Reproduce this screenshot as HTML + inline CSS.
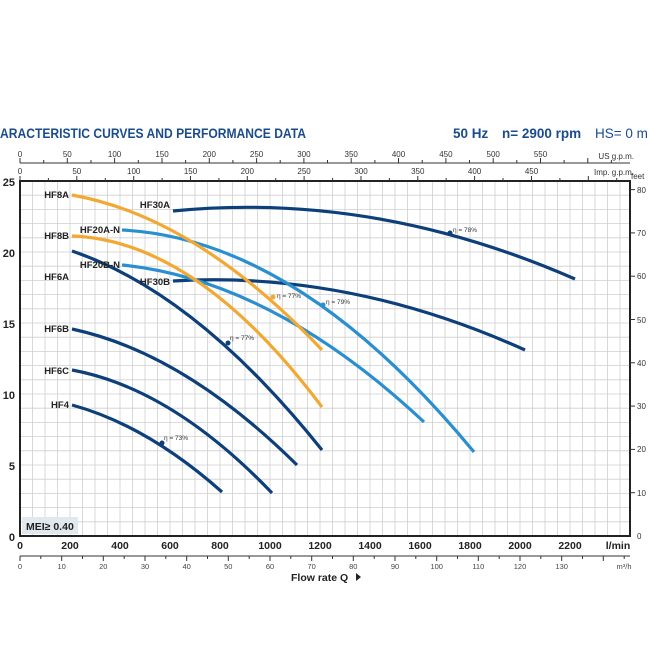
<!DOCTYPE html>
<html><head><meta charset="utf-8"><style>
html,body{margin:0;padding:0;background:#fff;}
svg{display:block;font-family:"Liberation Sans",sans-serif;}
</style></head><body>
<svg width="650" height="650" viewBox="0 0 650 650" xmlns="http://www.w3.org/2000/svg">
<rect width="650" height="650" fill="#fff"/>
<!-- title -->
<text x="0" y="138" font-size="13.5" font-weight="bold" fill="#1a4c8c" textLength="306" lengthAdjust="spacingAndGlyphs">ARACTERISTIC CURVES AND PERFORMANCE DATA</text>
<text x="453" y="138" font-size="13.5" font-weight="bold" fill="#1a4c8c">50 Hz</text>
<text x="502" y="138" font-size="13.5" font-weight="bold" fill="#1a4c8c">n= 2900 rpm</text>
<text x="595" y="138" font-size="13.5" fill="#1a4c8c">HS= 0 m</text>

<!-- grid -->
<g stroke="#cfcfcf" stroke-width="0.8">
<g id="vg">
<line x1="32.5" y1="181" x2="32.5" y2="536"/><line x1="45" y1="181" x2="45" y2="536"/><line x1="57.5" y1="181" x2="57.5" y2="536"/><line x1="70" y1="181" x2="70" y2="536"/>
<line x1="82.5" y1="181" x2="82.5" y2="536"/><line x1="95" y1="181" x2="95" y2="536"/><line x1="107.5" y1="181" x2="107.5" y2="536"/><line x1="120" y1="181" x2="120" y2="536"/>
<line x1="132.5" y1="181" x2="132.5" y2="536"/><line x1="145" y1="181" x2="145" y2="536"/><line x1="157.5" y1="181" x2="157.5" y2="536"/><line x1="170" y1="181" x2="170" y2="536"/>
<line x1="182.5" y1="181" x2="182.5" y2="536"/><line x1="195" y1="181" x2="195" y2="536"/><line x1="207.5" y1="181" x2="207.5" y2="536"/><line x1="220" y1="181" x2="220" y2="536"/>
<line x1="232.5" y1="181" x2="232.5" y2="536"/><line x1="245" y1="181" x2="245" y2="536"/><line x1="257.5" y1="181" x2="257.5" y2="536"/><line x1="270" y1="181" x2="270" y2="536"/>
<line x1="282.5" y1="181" x2="282.5" y2="536"/><line x1="295" y1="181" x2="295" y2="536"/><line x1="307.5" y1="181" x2="307.5" y2="536"/><line x1="320" y1="181" x2="320" y2="536"/>
<line x1="332.5" y1="181" x2="332.5" y2="536"/><line x1="345" y1="181" x2="345" y2="536"/><line x1="357.5" y1="181" x2="357.5" y2="536"/><line x1="370" y1="181" x2="370" y2="536"/>
<line x1="382.5" y1="181" x2="382.5" y2="536"/><line x1="395" y1="181" x2="395" y2="536"/><line x1="407.5" y1="181" x2="407.5" y2="536"/><line x1="420" y1="181" x2="420" y2="536"/>
<line x1="432.5" y1="181" x2="432.5" y2="536"/><line x1="445" y1="181" x2="445" y2="536"/><line x1="457.5" y1="181" x2="457.5" y2="536"/><line x1="470" y1="181" x2="470" y2="536"/>
<line x1="482.5" y1="181" x2="482.5" y2="536"/><line x1="495" y1="181" x2="495" y2="536"/><line x1="507.5" y1="181" x2="507.5" y2="536"/><line x1="520" y1="181" x2="520" y2="536"/>
<line x1="532.5" y1="181" x2="532.5" y2="536"/><line x1="545" y1="181" x2="545" y2="536"/><line x1="557.5" y1="181" x2="557.5" y2="536"/><line x1="570" y1="181" x2="570" y2="536"/>
<line x1="582.5" y1="181" x2="582.5" y2="536"/><line x1="595" y1="181" x2="595" y2="536"/><line x1="607.5" y1="181" x2="607.5" y2="536"/><line x1="620" y1="181" x2="620" y2="536"/>
</g>
<line x1="20" y1="195.2" x2="630" y2="195.2"/><line x1="20" y1="209.4" x2="630" y2="209.4"/><line x1="20" y1="223.6" x2="630" y2="223.6"/><line x1="20" y1="237.8" x2="630" y2="237.8"/><line x1="20" y1="252" x2="630" y2="252"/>
<line x1="20" y1="266.2" x2="630" y2="266.2"/><line x1="20" y1="280.4" x2="630" y2="280.4"/><line x1="20" y1="294.6" x2="630" y2="294.6"/><line x1="20" y1="308.8" x2="630" y2="308.8"/><line x1="20" y1="323" x2="630" y2="323"/>
<line x1="20" y1="337.2" x2="630" y2="337.2"/><line x1="20" y1="351.4" x2="630" y2="351.4"/><line x1="20" y1="365.6" x2="630" y2="365.6"/><line x1="20" y1="379.8" x2="630" y2="379.8"/><line x1="20" y1="394" x2="630" y2="394"/>
<line x1="20" y1="408.2" x2="630" y2="408.2"/><line x1="20" y1="422.4" x2="630" y2="422.4"/><line x1="20" y1="436.6" x2="630" y2="436.6"/><line x1="20" y1="450.8" x2="630" y2="450.8"/><line x1="20" y1="465" x2="630" y2="465"/>
<line x1="20" y1="479.2" x2="630" y2="479.2"/><line x1="20" y1="493.4" x2="630" y2="493.4"/><line x1="20" y1="507.6" x2="630" y2="507.6"/><line x1="20" y1="521.8" x2="630" y2="521.8"/>
</g>
<!-- plot frame -->
<rect x="20" y="181" width="610" height="355" fill="none" stroke="#222" stroke-width="2"/>

<!-- top axes -->
<g stroke="#333" stroke-width="1">
<line x1="20" y1="163" x2="630" y2="163"/>
<line x1="20" y1="163" x2="20" y2="158"/><line x1="67.3" y1="163" x2="67.3" y2="158"/><line x1="114.6" y1="163" x2="114.6" y2="158"/><line x1="162" y1="163" x2="162" y2="158"/><line x1="209.3" y1="163" x2="209.3" y2="158"/><line x1="256.6" y1="163" x2="256.6" y2="158"/><line x1="303.9" y1="163" x2="303.9" y2="158"/><line x1="351.2" y1="163" x2="351.2" y2="158"/><line x1="398.5" y1="163" x2="398.5" y2="158"/><line x1="445.9" y1="163" x2="445.9" y2="158"/><line x1="493.2" y1="163" x2="493.2" y2="158"/><line x1="540.5" y1="163" x2="540.5" y2="158"/><line x1="587.8" y1="163" x2="587.8" y2="158"/>
<line x1="43.7" y1="163" x2="43.7" y2="160"/><line x1="91" y1="163" x2="91" y2="160"/><line x1="138.3" y1="163" x2="138.3" y2="160"/><line x1="185.6" y1="163" x2="185.6" y2="160"/><line x1="232.9" y1="163" x2="232.9" y2="160"/><line x1="280.2" y1="163" x2="280.2" y2="160"/><line x1="327.5" y1="163" x2="327.5" y2="160"/><line x1="374.9" y1="163" x2="374.9" y2="160"/><line x1="422.2" y1="163" x2="422.2" y2="160"/><line x1="469.5" y1="163" x2="469.5" y2="160"/><line x1="516.8" y1="163" x2="516.8" y2="160"/><line x1="564.1" y1="163" x2="564.1" y2="160"/><line x1="611.4" y1="163" x2="611.4" y2="160"/>
<line x1="20" y1="181" x2="20" y2="176"/><line x1="76.8" y1="181" x2="76.8" y2="176"/><line x1="133.7" y1="181" x2="133.7" y2="176"/><line x1="190.5" y1="181" x2="190.5" y2="176"/><line x1="247.3" y1="181" x2="247.3" y2="176"/><line x1="304.1" y1="181" x2="304.1" y2="176"/><line x1="361" y1="181" x2="361" y2="176"/><line x1="417.8" y1="181" x2="417.8" y2="176"/><line x1="474.6" y1="181" x2="474.6" y2="176"/><line x1="531.5" y1="181" x2="531.5" y2="176"/><line x1="588.3" y1="181" x2="588.3" y2="176"/>
<line x1="48.4" y1="181" x2="48.4" y2="178"/><line x1="105.3" y1="181" x2="105.3" y2="178"/><line x1="162.1" y1="181" x2="162.1" y2="178"/><line x1="218.9" y1="181" x2="218.9" y2="178"/><line x1="275.7" y1="181" x2="275.7" y2="178"/><line x1="332.6" y1="181" x2="332.6" y2="178"/><line x1="389.4" y1="181" x2="389.4" y2="178"/><line x1="446.2" y1="181" x2="446.2" y2="178"/><line x1="503" y1="181" x2="503" y2="178"/><line x1="559.9" y1="181" x2="559.9" y2="178"/><line x1="616.7" y1="181" x2="616.7" y2="178"/>
</g>
<g font-size="8" fill="#333" text-anchor="middle">
<text x="20" y="157">0</text><text x="67.3" y="157">50</text><text x="114.6" y="157">100</text><text x="162" y="157">150</text><text x="209.3" y="157">200</text><text x="256.6" y="157">250</text><text x="303.9" y="157">300</text><text x="351.2" y="157">350</text><text x="398.5" y="157">400</text><text x="445.9" y="157">450</text><text x="493.2" y="157">500</text><text x="540.5" y="157">550</text>
<text x="20" y="174">0</text><text x="76.8" y="174">50</text><text x="133.7" y="174">100</text><text x="190.5" y="174">150</text><text x="247.3" y="174">200</text><text x="304.1" y="174">250</text><text x="361" y="174">300</text><text x="417.8" y="174">350</text><text x="474.6" y="174">400</text><text x="531.5" y="174">450</text>
</g>
<text x="634" y="159" font-size="8" fill="#333" text-anchor="end">US g.p.m.</text>
<text x="634" y="175" font-size="8" fill="#333" text-anchor="end">Imp. g.p.m.</text>

<!-- left axis -->
<g font-size="11" font-weight="bold" fill="#222" text-anchor="end">
<text x="15" y="186">25</text><text x="15" y="257">20</text><text x="15" y="328">15</text><text x="15" y="399">10</text><text x="15" y="470">5</text><text x="15" y="541">0</text>
</g>
<!-- right axis feet -->
<g stroke="#333" stroke-width="1">
<line x1="630" y1="189.6" x2="635" y2="189.6"/><line x1="630" y1="232.9" x2="635" y2="232.9"/><line x1="630" y1="276.2" x2="635" y2="276.2"/><line x1="630" y1="319.5" x2="635" y2="319.5"/><line x1="630" y1="362.8" x2="635" y2="362.8"/><line x1="630" y1="406.1" x2="635" y2="406.1"/><line x1="630" y1="449.4" x2="635" y2="449.4"/><line x1="630" y1="492.7" x2="635" y2="492.7"/>
</g>
<g font-size="8" fill="#333">
<text x="631" y="179">feet</text>
<text x="637" y="193">80</text><text x="637" y="236">70</text><text x="637" y="279">60</text><text x="637" y="323">50</text><text x="637" y="366">40</text><text x="637" y="409">30</text><text x="637" y="452">20</text><text x="637" y="496">10</text><text x="637" y="539">0</text>
</g>

<!-- bottom axis -->
<g font-size="10.5" font-weight="bold" fill="#222" text-anchor="middle">
<text x="20" y="549">0</text><text x="70" y="549">200</text><text x="120" y="549">400</text><text x="170" y="549">600</text><text x="220" y="549">800</text><text x="270" y="549">1000</text><text x="320" y="549">1200</text><text x="370" y="549">1400</text><text x="420" y="549">1600</text><text x="470" y="549">1800</text><text x="520" y="549">2000</text><text x="570" y="549">2200</text><text x="618" y="549">l/min</text>
</g>
<g stroke="#333" stroke-width="1">
<line x1="20" y1="556" x2="630" y2="556"/>
<line x1="20" y1="556" x2="20" y2="561"/><line x1="61.7" y1="556" x2="61.7" y2="561"/><line x1="103.3" y1="556" x2="103.3" y2="561"/><line x1="145" y1="556" x2="145" y2="561"/><line x1="186.7" y1="556" x2="186.7" y2="561"/><line x1="228.3" y1="556" x2="228.3" y2="561"/><line x1="270" y1="556" x2="270" y2="561"/><line x1="311.7" y1="556" x2="311.7" y2="561"/><line x1="353.3" y1="556" x2="353.3" y2="561"/><line x1="395" y1="556" x2="395" y2="561"/><line x1="436.7" y1="556" x2="436.7" y2="561"/><line x1="478.3" y1="556" x2="478.3" y2="561"/><line x1="520" y1="556" x2="520" y2="561"/><line x1="561.7" y1="556" x2="561.7" y2="561"/><line x1="603.3" y1="556" x2="603.3" y2="561"/>
<line x1="40.8" y1="556" x2="40.8" y2="559"/><line x1="82.5" y1="556" x2="82.5" y2="559"/><line x1="124.2" y1="556" x2="124.2" y2="559"/><line x1="165.8" y1="556" x2="165.8" y2="559"/><line x1="207.5" y1="556" x2="207.5" y2="559"/><line x1="249.2" y1="556" x2="249.2" y2="559"/><line x1="290.8" y1="556" x2="290.8" y2="559"/><line x1="332.5" y1="556" x2="332.5" y2="559"/><line x1="374.2" y1="556" x2="374.2" y2="559"/><line x1="415.8" y1="556" x2="415.8" y2="559"/><line x1="457.5" y1="556" x2="457.5" y2="559"/><line x1="499.2" y1="556" x2="499.2" y2="559"/><line x1="540.8" y1="556" x2="540.8" y2="559"/><line x1="582.5" y1="556" x2="582.5" y2="559"/><line x1="624.2" y1="556" x2="624.2" y2="559"/>
</g>
<g font-size="7.5" fill="#444" text-anchor="middle">
<text x="20" y="569">0</text><text x="61.7" y="569">10</text><text x="103.3" y="569">20</text><text x="145" y="569">30</text><text x="186.7" y="569">40</text><text x="228.3" y="569">50</text><text x="270" y="569">60</text><text x="311.7" y="569">70</text><text x="353.3" y="569">80</text><text x="395" y="569">90</text><text x="436.7" y="569">100</text><text x="478.3" y="569">110</text><text x="520" y="569">120</text><text x="561.7" y="569">130</text><text x="624" y="569">m³/h</text>
</g>
<text x="291" y="581" font-size="10.5" font-weight="bold" fill="#222">Flow rate  Q</text>
<polygon points="356,573 356,581 361,577" fill="#222"/>

<!-- MEI box -->
<rect x="22" y="517" width="56" height="17" fill="#e1e8ee"/>
<text x="26" y="530" font-size="10.5" font-weight="bold" fill="#222">MEI≥ 0.40</text>

<!-- curves -->
<g fill="none" stroke-width="3.2" stroke-linecap="butt">
<path d="M173,211 Q374,191 575,279" stroke="#0d3f7a"/>
<path d="M173,281 Q349,270.5 525,350" stroke="#0d3f7a"/>
<path d="M122,230 Q298,239 474,452" stroke="#2a8fd0"/>
<path d="M122,265 Q273,280.5 424,422" stroke="#2a8fd0"/>
<path d="M72,195 Q197,217.5 322,350" stroke="#f2a833"/>
<path d="M72,236 Q197,240.5 322,407" stroke="#f2a833"/>
<path d="M72,251 Q197,293.5 322,450" stroke="#0d3f7a"/>
<path d="M72,329 Q184,353 297,465" stroke="#0d3f7a"/>
<path d="M72,370 Q172,388.5 272,493" stroke="#0d3f7a"/>
<path d="M72,405 Q147,425.5 222,492" stroke="#0d3f7a"/>
</g>
<!-- eta markers -->
<g font-size="6.5" fill="#333">
<circle cx="450" cy="233" r="2.5" fill="#0d3f7a"/><text x="453" y="232">η = 78%</text>
<circle cx="273" cy="297" r="2.5" fill="#f2a833"/><text x="277" y="298">η = 77%</text>
<circle cx="323" cy="305" r="2.5" fill="#2a8fd0"/><text x="326" y="304">η = 79%</text>
<circle cx="228" cy="343" r="2.5" fill="#0d3f7a"/><text x="230" y="340">η = 77%</text>
<circle cx="162" cy="443" r="2.5" fill="#0d3f7a"/><text x="164" y="440">η = 73%</text>
</g>
<!-- labels -->
<g font-size="9.5" font-weight="bold" fill="#222" text-anchor="end">
<text x="69" y="198">HF8A</text>
<text x="69" y="239">HF8B</text>
<text x="69" y="280">HF6A</text>
<text x="69" y="332">HF6B</text>
<text x="69" y="374">HF6C</text>
<text x="69" y="408">HF4</text>
<text x="120" y="233">HF20A-N</text>
<text x="120" y="268">HF20B-N</text>
<text x="170" y="208">HF30A</text>
<text x="170" y="285">HF30B</text>
</g>
</svg>
</body></html>
